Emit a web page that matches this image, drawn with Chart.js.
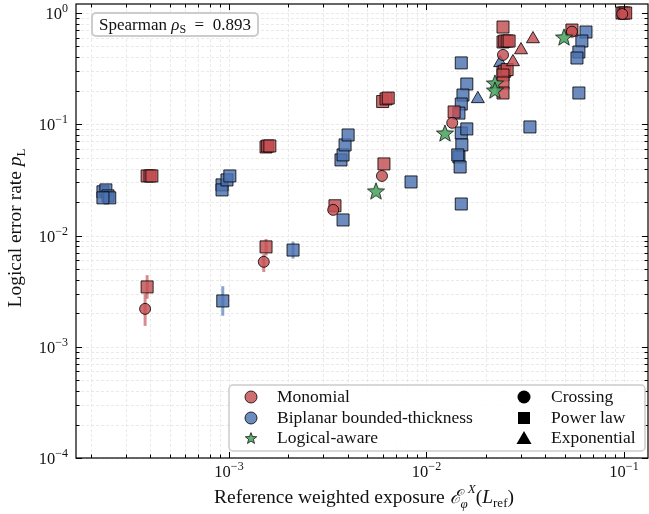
<!DOCTYPE html>
<html>
<head>
<meta charset="utf-8">
<script src="https://cdn.jsdelivr.net/npm/chart.js@4.4.1/dist/chart.umd.min.js"></script>
<style>
  html, body { margin: 0; background: #fff; }
</style>
</head>
<body>
<canvas id="chart" width="649" height="514"></canvas>
<script>
// ---- data ----
const monoSquareX = [3.85e-4, 3.98e-4, 4.07e-4, 3.85e-4, 1.54e-3, 1.57e-3, 1.61e-3, 1.54e-3, 3.44e-3, 6.09e-3, 6.0e-3, 6.24e-3, 6.4e-3,
  0.0138, 0.0244, 0.0244, 0.0249, 0.0256, 0.0262, 0.0244, 0.0249, 0.0256, 0.0244, 0.0244, 0.0244, 0.0545, 0.0977, 0.100, 0.102];
const monoSquareY = [0.0343, 0.0343, 0.0343, 0.00345, 0.0625, 0.0638, 0.0638, 0.0079, 0.0185, 0.0440, 0.160, 0.169, 0.172,
  0.129, 0.748, 0.549, 0.56, 0.56, 0.56, 0.295, 0.30, 0.31, 0.277, 0.235, 0.191, 0.703, 1.0, 1.0, 1.0];
const monoCircleX = [3.76e-4, 1.50e-3, 3.37e-3, 5.95e-3, 0.0135, 0.0244, 0.0545, 0.098];
const monoCircleY = [0.00219, 0.0058, 0.0170, 0.0343, 0.103, 0.42, 0.68, 0.98];
const monoTriX = [0.0274, 0.0301, 0.0346];
const monoTriY = [0.363, 0.465, 0.584];

const bipSquareX = [2.30e-4, 2.38e-4, 2.44e-4, 2.49e-4, 2.30e-4, 9.22e-4, 9.22e-4, 9.77e-4, 1.01e-3, 9.3e-4, 2.11e-3,
  3.69e-3, 3.78e-3, 3.87e-3, 4.01e-3, 3.78e-3, 8.35e-3,
  0.0150, 0.0160, 0.0153, 0.0150, 0.0146, 0.0150, 0.0160, 0.0151, 0.0146, 0.0144, 0.0148, 0.0150,
  0.0334, 0.0642, 0.0612, 0.0591, 0.0578, 0.0591];
const bipSquareY = [0.0247, 0.0257, 0.0227, 0.0218, 0.0218, 0.0285, 0.0257, 0.0316, 0.0343, 0.00258, 0.0074,
  0.0478, 0.0530, 0.0652, 0.0801, 0.0138, 0.0303,
  0.356, 0.230, 0.183, 0.152, 0.126, 0.0835, 0.0908, 0.0652, 0.0508, 0.053, 0.0413, 0.0192,
  0.0946, 0.675, 0.560, 0.446, 0.394, 0.191];
const bipTriX = [0.0182, 0.0236];
const bipTriY = [0.169, 0.356];

const logicalX = [5.55e-3, 0.0124, 0.0222, 0.0222, 0.0497];
const logicalY = [0.0252, 0.0835, 0.235, 0.203, 0.609];

// error bars that stick out of the markers
const monoErrX = [3.85e-4, 3.76e-4, 1.54e-3, 1.50e-3];
const monoErrLo = [0.0027, 0.00154, 0.0066, 0.0047];
const monoErrHi = [0.0044, 0.0030, 0.0093, 0.0068];
const bipErrX = [9.3e-4, 2.11e-3];
const bipErrLo = [0.0019, 0.0062];
const bipErrHi = [0.0035, 0.0088];

const xTickVals = [1e-3, 1e-2, 1e-1];
const xTickExp = ['\u22123', '\u22122', '\u22121'];
const yTickVals = [1e-4, 1e-3, 1e-2, 1e-1, 1];
const yTickExp = ['\u22124', '\u22123', '\u22122', '\u22121', '0'];

const RED = 'rgba(196,78,82,0.82)';
const BLUE = 'rgba(76,114,176,0.82)';
const GREEN = 'rgba(85,168,104,0.92)';
const EDGE = 'rgba(0,0,0,0.8)';
const SERIF = '"Liberation Serif", "DejaVu Serif", serif';

const pts = (xs, ys) => xs.map((x, i) => ({x: x, y: ys[i]}));

function starCanvas(r, fill) {
  const s = Math.ceil(r * 2 + 4);
  const c = document.createElement('canvas');
  c.width = c.height = s;
  const g = c.getContext('2d');
  g.translate(s / 2, s / 2 + r * 0.1);
  g.beginPath();
  for (let i = 0; i < 10; i++) {
    const rr = i % 2 ? r * 0.42 : r;
    const a = -Math.PI / 2 + i * Math.PI / 5;
    g.lineTo(rr * Math.cos(a), rr * Math.sin(a));
  }
  g.closePath();
  g.fillStyle = fill;
  g.fill();
  g.lineWidth = 0.9;
  g.strokeStyle = EDGE;
  g.stroke();
  return c;
}

// draw text made of pieces (sub/superscripts), returns width
function rich(ctx, parts, x, y, align) {
  let w = 0;
  parts.forEach(p => {
    ctx.font = (p.it ? 'italic ' : '') + p.s + 'px ' + SERIF;
    p.w = ctx.measureText(p.t).width;
    w += p.w;
  });
  let cx = align === 'center' ? x - w / 2 : align === 'right' ? x - w : x;
  ctx.textBaseline = 'alphabetic';
  ctx.textAlign = 'left';
  parts.forEach(p => {
    ctx.font = (p.it ? 'italic ' : '') + p.s + 'px ' + SERIF;
    ctx.fillText(p.t, cx, y + (p.dy || 0));
    cx += p.w;
  });
  return w;
}

function logVals(scale) {
  const out = [];
  for (let e = Math.floor(Math.log10(scale.min)); e <= Math.ceil(Math.log10(scale.max)); e++) {
    for (let m = 1; m <= 9; m++) {
      const v = m * Math.pow(10, e);
      if (v >= scale.min * 0.999 && v <= scale.max * 1.001) out.push({v: v, major: m === 1});
    }
  }
  return out;
}

const backdrop = {
  id: 'backdrop',
  beforeDatasetsDraw(chart) {
    const {ctx, chartArea: a, scales: {x, y}} = chart;
    ctx.save();
    ctx.strokeStyle = '#e4e4e4';
    ctx.lineWidth = 0.8;
    ctx.setLineDash([3, 2]);
    logVals(x).forEach(t => {
      const p = Math.round(x.getPixelForValue(t.v)) + 0.5;
      ctx.beginPath(); ctx.moveTo(p, a.top); ctx.lineTo(p, a.bottom); ctx.stroke();
    });
    logVals(y).forEach(t => {
      const p = Math.round(y.getPixelForValue(t.v)) + 0.5;
      ctx.beginPath(); ctx.moveTo(a.left, p); ctx.lineTo(a.right, p); ctx.stroke();
    });
    ctx.setLineDash([]);
    ctx.lineWidth = 3;
    const bars = (xs, lo, hi, col) => xs.forEach((v, i) => {
      const px = x.getPixelForValue(v);
      ctx.strokeStyle = col;
      ctx.beginPath(); ctx.moveTo(px, y.getPixelForValue(lo[i])); ctx.lineTo(px, y.getPixelForValue(hi[i])); ctx.stroke();
    });
    bars(monoErrX, monoErrLo, monoErrHi, 'rgba(196,78,82,0.65)');
    bars(bipErrX, bipErrLo, bipErrHi, 'rgba(76,114,176,0.65)');
    ctx.restore();
  },
  afterDraw(chart) {
    const {ctx, chartArea: a, scales: {x, y}} = chart;
    ctx.save();
    // frame and inward ticks
    ctx.strokeStyle = '#000';
    ctx.lineWidth = 1.2;
    ctx.strokeRect(a.left, a.top, a.right - a.left, a.bottom - a.top);
    ctx.lineWidth = 1;
    logVals(x).forEach(t => {
      const p = Math.round(x.getPixelForValue(t.v)) + 0.5, L = t.major ? 6 : 3.5;
      ctx.beginPath();
      ctx.moveTo(p, a.bottom); ctx.lineTo(p, a.bottom - L);
      ctx.moveTo(p, a.top); ctx.lineTo(p, a.top + L);
      ctx.stroke();
    });
    logVals(y).forEach(t => {
      const p = Math.round(y.getPixelForValue(t.v)) + 0.5, L = t.major ? 6 : 3.5;
      ctx.beginPath();
      ctx.moveTo(a.left, p); ctx.lineTo(a.left + L, p);
      ctx.moveTo(a.right, p); ctx.lineTo(a.right - L, p);
      ctx.stroke();
    });
    // tick labels
    ctx.fillStyle = '#111';
    xTickVals.forEach((v, i) => {
      rich(ctx, [{t: '10', s: 16.5}, {t: xTickExp[i], s: 12, dy: -7}], x.getPixelForValue(v), a.bottom + 19, 'center');
    });
    yTickVals.forEach((v, i) => {
      rich(ctx, [{t: '10', s: 16.5}, {t: yTickExp[i], s: 12, dy: -7}], a.left - 8, y.getPixelForValue(v) + 6, 'right');
    });
    // axis titles
    rich(ctx, [{t: 'Reference weighted exposure ', s: 19.5}, {t: '\u2130', s: 19, it: true},
      {t: '\u03c6', s: 13, it: true, dy: 5}, {t: 'X', s: 13, it: true, dy: -10},
      {t: '(', s: 19.5}, {t: 'L', s: 19.5, it: true}, {t: 'ref', s: 13, dy: 4}, {t: ')', s: 19.5}],
      (a.left + a.right) / 2 + 2, 503, 'center');
    ctx.save();
    ctx.translate(21, (a.top + a.bottom) / 2 - 3);
    ctx.rotate(-Math.PI / 2);
    rich(ctx, [{t: 'Logical error rate ', s: 19.5}, {t: 'p', s: 19.5, it: true}, {t: 'L', s: 13, dy: 4}], 0, 0, 'center');
    ctx.restore();
    // Spearman box
    ctx.fillStyle = '#fff';
    ctx.strokeStyle = '#cccccc';
    ctx.lineWidth = 2;
    ctx.beginPath(); ctx.roundRect(92, 13, 166, 23, 4); ctx.fill(); ctx.stroke();
    ctx.fillStyle = '#111';
    rich(ctx, [{t: 'Spearman ', s: 17}, {t: '\u03c1', s: 17, it: true}, {t: 'S', s: 12, dy: 3}, {t: '  =  0.893', s: 17}], 175, 30, 'center');
    // legend
    ctx.fillStyle = 'rgba(255,255,255,0.9)';
    ctx.strokeStyle = '#cccccc';
    ctx.lineWidth = 1.5;
    ctx.beginPath(); ctx.roundRect(229, 385, 416, 66, 4); ctx.fill(); ctx.stroke();
    const rows = [397, 418, 438];
    const dot = (cx, cy, col) => {
      ctx.beginPath(); ctx.arc(cx, cy, 6, 0, Math.PI * 2);
      ctx.fillStyle = col; ctx.fill(); ctx.lineWidth = 1; ctx.strokeStyle = EDGE; ctx.stroke();
    };
    dot(251, rows[0], RED);
    dot(251, rows[1], BLUE);
    ctx.drawImage(starCanvas(6, GREEN), 251 - 8, rows[2] - 8);
    ctx.fillStyle = '#000';
    ctx.beginPath(); ctx.arc(524, rows[0], 6.5, 0, Math.PI * 2); ctx.fill();
    ctx.fillRect(518, rows[1] - 6, 12, 12);
    ctx.beginPath(); ctx.moveTo(524, rows[2] - 7); ctx.lineTo(531.5, rows[2] + 6); ctx.lineTo(516.5, rows[2] + 6); ctx.closePath(); ctx.fill();
    ctx.fillStyle = '#111';
    const lab = (t, lx, ly) => rich(ctx, [{t: t, s: 17.5}], lx, ly + 5, 'left');
    lab('Monomial', 277, rows[0]);
    lab('Biplanar bounded-thickness', 277, rows[1]);
    lab('Logical-aware', 277, rows[2]);
    lab('Crossing', 551, rows[0]);
    lab('Power law', 551, rows[1]);
    lab('Exponential', 551, rows[2]);
    ctx.restore();
  }
};

const mk = (label, xs, ys, style, col, r) => ({
  label: label,
  data: pts(xs, ys),
  pointStyle: style,
  pointRadius: r,
  pointBackgroundColor: col,
  pointBorderColor: EDGE,
  pointBorderWidth: 1,
  showLine: false
});

new Chart(document.getElementById('chart'), {
  type: 'scatter',
  data: {
    datasets: [
      mk('Logical-aware', logicalX, logicalY, starCanvas(9, GREEN), GREEN, 8),
      mk('Monomial, crossing', monoCircleX, monoCircleY, 'circle', RED, 5.5),
      mk('Monomial, exponential', monoTriX, monoTriY, 'triangle', RED, 7.5),
      mk('Monomial, power law', monoSquareX, monoSquareY, 'rect', RED, 8.5),
      mk('Biplanar, exponential', bipTriX, bipTriY, 'triangle', BLUE, 7.5),
      mk('Biplanar, power law', bipSquareX, bipSquareY, 'rect', BLUE, 8.5)
    ]
  },
  options: {
    responsive: false,
    animation: false,
    layout: {autoPadding: false, padding: {left: 76, right: 1, top: 4, bottom: 56}},
    plugins: {legend: {display: false}, tooltip: {enabled: false}},
    scales: {
      x: {type: 'logarithmic', min: 1.68e-4, max: 0.1323,
        grid: {display: false}, border: {display: false}, ticks: {display: false},
        afterFit(s) { s.height = 0; }},
      y: {type: 'logarithmic', min: 1e-4, max: 1.205,
        grid: {display: false}, border: {display: false}, ticks: {display: false},
        afterFit(s) { s.width = 0; }}
    }
  },
  plugins: [backdrop]
});
</script>
</body>
</html>
